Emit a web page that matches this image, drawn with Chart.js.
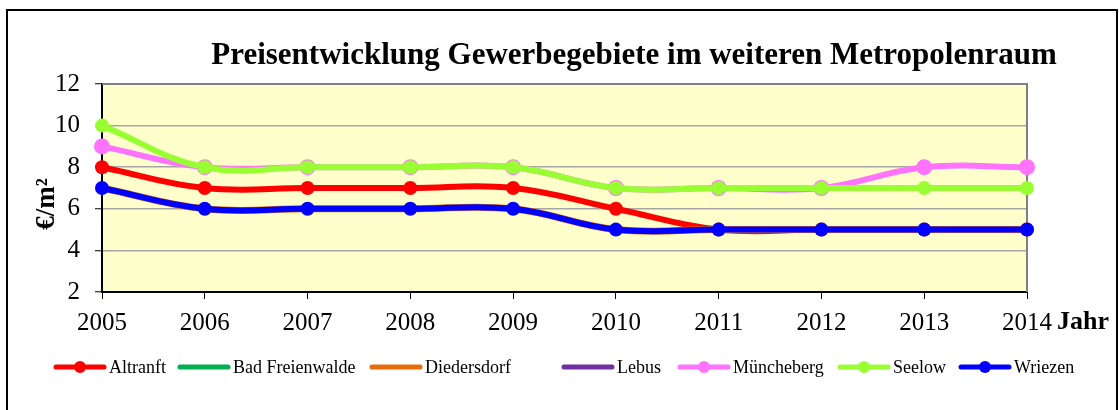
<!DOCTYPE html>
<html>
<head>
<meta charset="utf-8">
<script src="https://cdn.jsdelivr.net/npm/chart.js"></script>
<style>
  html, body { margin: 0; padding: 0; background: #fff; }
  #wrap { position: relative; width: 1119px; height: 410px; }
</style>
</head>
<body>
<div id="wrap"><canvas id="myChart" width="1119" height="410"></canvas></div>

<script>
  // DATA
  const years = ['2005', '2006', '2007', '2008', '2009', '2010', '2011', '2012', '2013', '2014'];
  const altranft = [8, 7, 7, 7, 7, 6, 5, 5, 5, 5];
  const badFreienwalde = [null, null, null, null, null, null, null, null, null, null]; // no visible line
  const diedersdorf = [7, 6, 6, 6, 6, 5, 5, 5, 5, 5];
  const lebus = [null, null, null, null, null, null, null, null, null, null]; // no visible line
  const muencheberg = [9, 8, 8, 8, 8, 7, 7, 7, 8, 8];
  const seelow = [10, 8, 8, 8, 8, 7, 7, 7, 7, 7];
  const wriezen = [7, 6, 6, 6, 6, 5, 5, 5, 5, 5];
  const yTicks = [2, 4, 6, 8, 10, 12];

  const titleText = 'Preisentwicklung Gewerbegebiete im weiteren Metropolenraum';
  const yTitleText = '€/m²';
  const xTitleText = 'Jahr';
  const serif = "'Liberation Serif', 'Times New Roman', serif";

  // one helper so every series looks the same way
  function series(label, data, color, markers, width, radius) {
    return {
      label: label,
      data: data,
      borderColor: color,
      backgroundColor: color,
      pointBackgroundColor: color,
      pointBorderColor: color,
      borderWidth: width,
      pointRadius: markers ? radius : 0,
      pointHoverRadius: markers ? radius : 0,
      pointBorderWidth: 0,
      tension: 0.4,
      clip: false,
      spanGaps: false
    };
  }

  const datasets = [
    series('Altranft', altranft, '#FF0000', true, 6, 7),
    series('Bad Freienwalde', badFreienwalde, '#00B050', false, 6, 0),
    series('Diedersdorf', diedersdorf, '#E46C0A', false, 7, 0),
    series('Lebus', lebus, '#7030A0', false, 6, 0),
    series('Müncheberg', muencheberg, '#FF73FF', true, 6, 8),
    series('Seelow', seelow, '#99FF33', true, 6, 7),
    series('Wriezen', wriezen, '#0000FF', true, 6, 7)
  ];
  // later series are painted on top (like the original)
  datasets.forEach((d, i) => { d.order = datasets.length - i; });

  // background, frame, titles and legend
  const chartDecor = {
    id: 'chartDecor',
    beforeDraw(chart) {
      const { ctx, chartArea: a } = chart;
      ctx.save();
      ctx.fillStyle = '#FFFFFF';
      ctx.fillRect(0, 0, chart.width, chart.height);
      ctx.fillStyle = '#FFFFCC';
      ctx.fillRect(a.left, a.top, a.right - a.left, a.bottom - a.top);
      ctx.restore();
    },
    beforeDatasetsDraw(chart) {
      const { ctx, chartArea: a } = chart;
      ctx.save();
      ctx.strokeStyle = '#808080';
      ctx.lineWidth = 2;
      ctx.beginPath();
      ctx.moveTo(a.left, a.top);
      ctx.lineTo(a.right, a.top);
      ctx.lineTo(a.right, a.bottom);
      ctx.stroke();
      ctx.restore();
    },
    afterDraw(chart) {
      const { ctx, chartArea: a } = chart;
      ctx.save();

      // outer frame
      ctx.strokeStyle = '#000';
      ctx.lineWidth = 2;
      ctx.strokeRect(7, 10, 1110, 480);

      // title
      ctx.fillStyle = '#000';
      ctx.font = 'bold 31px ' + serif;
      ctx.textAlign = 'center';
      ctx.textBaseline = 'alphabetic';
      ctx.fillText(titleText, 634, 64);

      // y axis title
      ctx.save();
      ctx.translate(47, 204);
      ctx.rotate(-Math.PI / 2);
      ctx.font = 'bold 27px ' + serif;
      ctx.textAlign = 'center';
      ctx.textBaseline = 'middle';
      ctx.fillText(yTitleText, 0, 0);
      ctx.restore();

      // x axis title
      ctx.font = 'bold 26px ' + serif;
      ctx.textAlign = 'left';
      ctx.textBaseline = 'middle';
      ctx.fillText(xTitleText, a.right + 30, 322);

      // legend (entry columns as in the original layout)
      ctx.font = '18px ' + serif;
      const legendX = [54, 178, 370, 562, 678, 838, 959];
      const lineLen = 52, gapText = 3;
      const y = 367;
      datasets.forEach((d, i) => {
        const x = legendX[i];
        ctx.strokeStyle = d.borderColor;
        ctx.lineWidth = 5;
        ctx.lineCap = 'round';
        ctx.beginPath();
        ctx.moveTo(x + 2, y);
        ctx.lineTo(x + lineLen - 2, y);
        ctx.stroke();
        if (d.pointRadius > 0) {
          ctx.fillStyle = d.borderColor;
          ctx.beginPath();
          ctx.arc(x + lineLen / 2, y, 6, 0, Math.PI * 2);
          ctx.fill();
        }
        ctx.fillStyle = '#000';
        ctx.textAlign = 'left';
        ctx.textBaseline = 'middle';
        ctx.fillText(d.label, x + lineLen + gapText, y + 1);
      });

      ctx.restore();
    }
  };

  const ctx = document.getElementById('myChart');

  new Chart(ctx, {
    type: 'line',
    data: {
      labels: years,
      datasets: datasets
    },
    options: {
      responsive: false,
      animation: false,
      events: [],
      layout: {
        padding: { left: 0, top: 84, right: 92, bottom: 68 }
      },
      plugins: {
        legend: { display: false },
        title: { display: false },
        tooltip: { enabled: false }
      },
      scales: {
        x: {
          afterFit: (scale) => { scale.height = 50; },
          offset: false,
          grid: {
            display: true,
            drawOnChartArea: false,
            drawTicks: true,
            tickLength: 7,
            tickColor: '#000',
            tickWidth: 1
          },
          border: { display: true, color: '#000', width: 2 },
          ticks: {
            color: '#000',
            padding: 9,
            maxRotation: 0,
            autoSkip: false,
            font: { family: serif, size: 25 }
          }
        },
        y: {
          afterFit: (scale) => { scale.width = 102; },
          min: yTicks[0],
          max: yTicks[yTicks.length - 1],
          afterBuildTicks: (scale) => { scale.ticks = yTicks.map(v => ({ value: v })); },
          grid: {
            color: '#A6A6A6',
            lineWidth: 1.5,
            drawTicks: true,
            tickLength: 7,
            tickColor: '#000',
            tickWidth: 1
          },
          border: { display: true, color: '#000', width: 2 },
          ticks: {
            color: '#000',
            padding: 15,
            font: { family: serif, size: 25 }
          }
        }
      }
    },
    plugins: [chartDecor]
  });
</script>
</body>
</html>
